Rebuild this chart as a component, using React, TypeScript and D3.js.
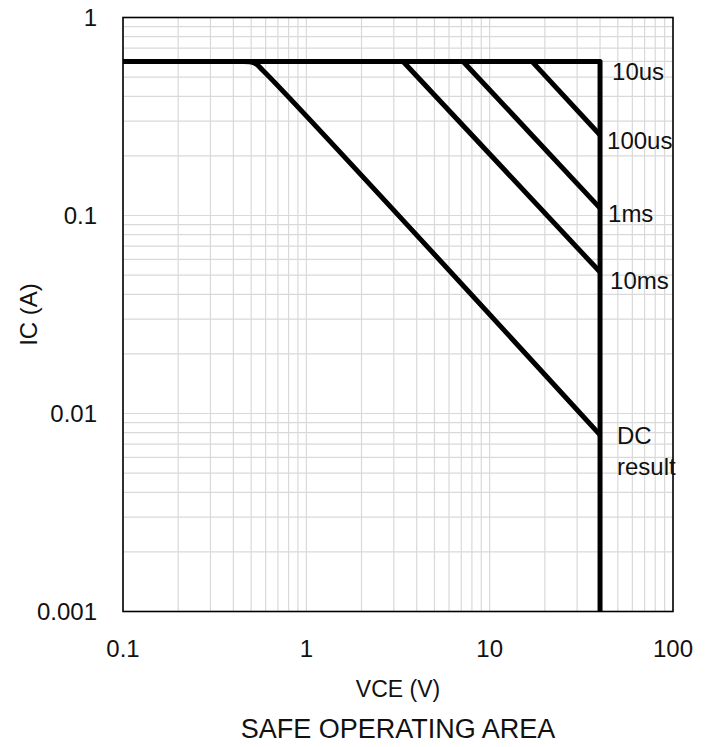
import React from "react";
import * as d3 from "d3";

// Axis ticks
const xTickValues = [0.1, 1, 10, 100];
const xTickLabels = ["0.1", "1", "10", "100"];
const yTickValues = [0.001, 0.01, 0.1, 1];
const yTickLabels = ["0.001", "0.01", "0.1", "1"];

// Series (VCE in V, IC in A)
const limitV = [0.1, 40, 40];
const limitI = [0.6, 0.6, 0.001];
const dcV = [0.45, 0.52, 0.58, 40];
const dcI = [0.6, 0.59, 0.54, 0.0078];
const ms10V = [3.37, 40];
const ms10I = [0.6, 0.0518];
const ms1V = [7.16, 40];
const ms1I = [0.6, 0.109];
const us100V = [17, 40];
const us100I = [0.6, 0.255];

// Annotations
const annText = ["10us", "100us", "1ms", "10ms", "DC", "result"];
const annV = [40, 40, 40, 40, 40, 40];
const annI = [0.537, 0.241, 0.103, 0.047, 0.0078, 0.00543];

const W = 711;
const H = 747;
const M = { left: 123, right: 673, top: 17.5, bottom: 611.5 };
const FONT = "'Liberation Sans', Arial, sans-serif";

export default function App() {
  const x = d3.scaleLog().domain([0.1, 100]).range([M.left, M.right]);
  const y = d3.scaleLog().domain([0.001, 1]).range([M.bottom, M.top]);
  const xGrid = x.ticks();
  const yGrid = y.ticks();

  const line = d3
    .line<[number, number]>()
    .x((d) => x(d[0]))
    .y((d) => y(d[1]));
  const smooth = d3
    .line<[number, number]>()
    .x((d) => x(d[0]))
    .y((d) => y(d[1]))
    .curve(d3.curveCatmullRom.alpha(0.5));

  const zip = (a: number[], b: number[]) => a.map((v, i) => [v, b[i]] as [number, number]);

  const series = [
    { d: line(zip(limitV, limitI)) },
    { d: smooth(zip(dcV, dcI)) },
    { d: line(zip(ms10V, ms10I)) },
    { d: line(zip(ms1V, ms1I)) },
    { d: line(zip(us100V, us100I)) },
  ];

  const annDx = [12, 7, 8, 10, 17, 17];

  return (
    <svg
      width={W}
      height={H}
      style={{ position: "absolute", left: 0, top: 0, background: "#fff" }}
      fontFamily={FONT}
    >
      <rect x={0} y={0} width={W} height={H} fill="#fff" />
      <g stroke="#d9d9d9" strokeWidth={1.2}>
        {xGrid.map((v, i) => (
          <line key={"gx" + i} x1={x(v)} x2={x(v)} y1={M.top} y2={M.bottom} />
        ))}
        {yGrid.map((v, i) => (
          <line key={"gy" + i} x1={M.left} x2={M.right} y1={y(v)} y2={y(v)} />
        ))}
      </g>
      <rect
        x={M.left}
        y={M.top}
        width={M.right - M.left}
        height={M.bottom - M.top}
        fill="none"
        stroke="#000"
        strokeWidth={1.6}
      />
      <g fill="none" stroke="#000" strokeWidth={5} strokeLinejoin="round">
        {series.map((s, i) => (
          <path key={"s" + i} d={s.d || ""} />
        ))}
      </g>
      <g fontSize={24} fill="#111">
        {xTickValues.map((v, i) => (
          <text key={"xt" + i} x={x(v)} y={657} textAnchor="middle">
            {xTickLabels[i]}
          </text>
        ))}
        {yTickValues.map((v, i) => (
          <text key={"yt" + i} x={97} y={y(v)} dy="0.36em" textAnchor="end">
            {yTickLabels[i]}
          </text>
        ))}
      </g>
      <text x={(M.left + M.right) / 2} y={697} textAnchor="middle" fontSize={23} fill="#111">
        VCE (V)
      </text>
      <text
        transform={`translate(37, ${(M.top + M.bottom) / 2}) rotate(-90)`}
        textAnchor="middle"
        fontSize={24}
        fill="#111"
      >
        IC (A)
      </text>
      <text x={(M.left + M.right) / 2} y={738} textAnchor="middle" fontSize={27} fill="#111">
        SAFE OPERATING AREA
      </text>
      <g fontSize={24} fill="#111">
        {annText.map((t, i) => (
          <text key={"a" + i} x={x(annV[i]) + annDx[i]} y={y(annI[i])} dy="0.36em">
            {t}
          </text>
        ))}
      </g>
    </svg>
  );
}
